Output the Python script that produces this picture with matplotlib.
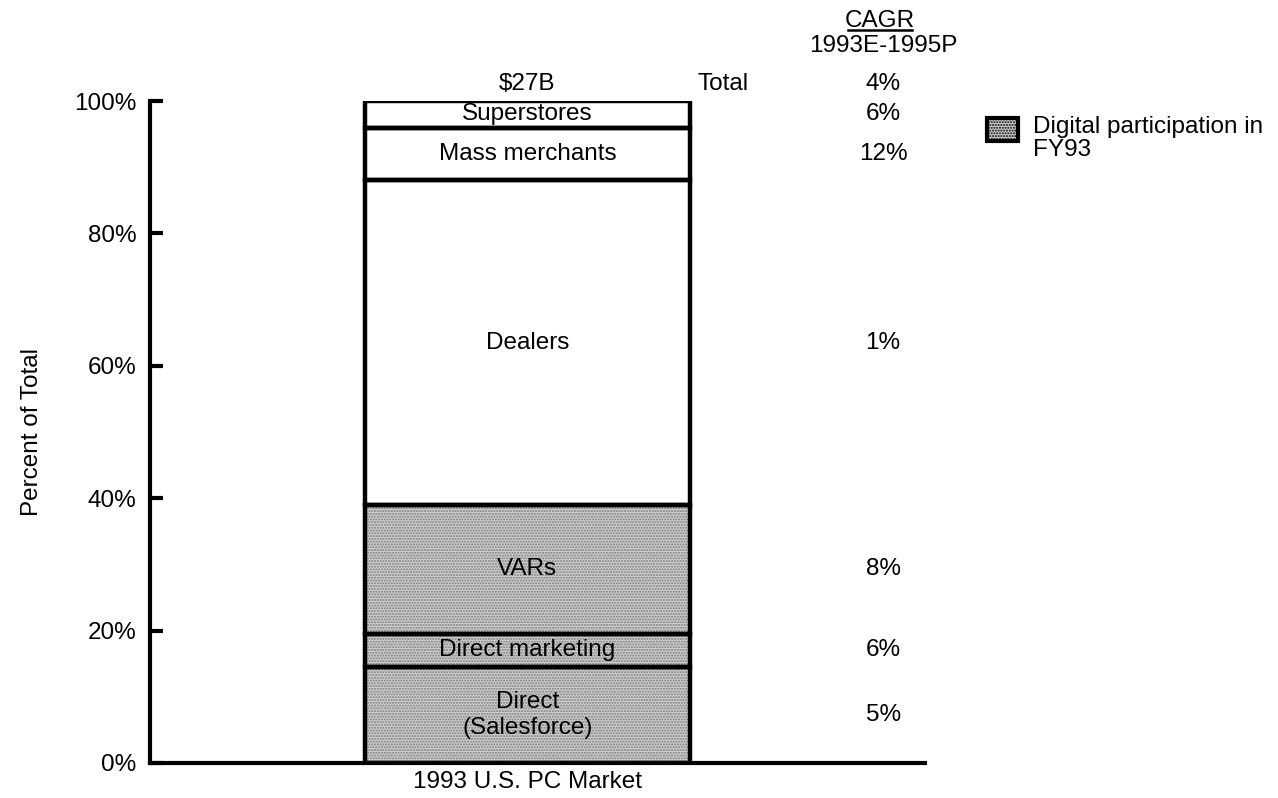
import matplotlib.pyplot as plt
import numpy as np
from matplotlib.patches import Rectangle

plt.rcParams['font.family'] = ['Liberation Sans', 'DejaVu Sans']

channels = ["Direct\n(Salesforce)", "Direct marketing", "VARs", "Dealers",
            "Mass merchants", "Superstores"]
shares = [14.5, 5.0, 19.5, 49.0, 8.0, 4.0]
cagr = ["5%", "6%", "8%", "1%", "12%", "6%"]
digital = [True, True, True, False, False, False]
market_label = "1993 U.S. PC Market"
market_size = "$27B"
total_cagr = "4%"
yticks = [0, 20, 40, 60, 80, 100]

fs = 17.5
stipple = '#cfcfcf'

fig = plt.figure(figsize=(12.78, 7.98), dpi=100)
ax = fig.add_axes([0.1174, 0.0439, 0.6064, 0.8295])

bottoms = np.cumsum([0] + shares[:-1])
bar_x, bar_w = 0.0, 0.42

# shaded fill first, then the heavy outlines on top
for b, h, d in zip(bottoms, shares, digital):
    if d:
        ax.bar(bar_x, h, bottom=b, width=bar_w, color=stipple,
               hatch='......', edgecolor='#7a7a7a', linewidth=0, zorder=1)
ax.bar(bar_x, shares, bottom=bottoms, width=bar_w, facecolor='none',
       edgecolor='black', linewidth=3.2, zorder=2)

for b, h, name in zip(bottoms, shares, channels):
    ax.text(bar_x, b + h / 2, name, ha='center', va='center', fontsize=fs, zorder=3)

# CAGR column
cagr_x = 0.459
for b, h, c in zip(bottoms, shares, cagr):
    ax.text(cagr_x, b + h / 2, c, ha='center', va='center', fontsize=fs,
            clip_on=False)
ax.text(bar_x, 102.6, market_size, ha='center', va='center', fontsize=fs)
ax.text(0.252, 102.6, "Total", ha='center', va='center', fontsize=fs)
ax.text(cagr_x, 102.6, total_cagr, ha='center', va='center', fontsize=fs)
ax.text(cagr_x, 108.3, "1993E-1995P", ha='center', va='center', fontsize=fs)
ax.text(cagr_x - 0.004, 112.1, "CAGR", ha='center', va='center', fontsize=fs)
ax.plot([cagr_x - 0.045, cagr_x + 0.037], [110.7, 110.7], color='black',
        linewidth=1.8, clip_on=False)

ax.set_xlim(-0.487, 0.513)
ax.set_ylim(0, 100)
ax.set_yticks(yticks)
ax.set_yticklabels([f"{t}%" for t in yticks], fontsize=fs)
ax.set_xticks([bar_x])
ax.set_xticklabels([market_label], fontsize=fs)
ax.tick_params(axis='y', direction='in', length=9, width=3, pad=10)
ax.tick_params(axis='x', length=0, pad=6)
ax.set_ylabel("Percent of Total", fontsize=fs, labelpad=22)
for side in ['top', 'right']:
    ax.spines[side].set_visible(False)
for side in ['left', 'bottom']:
    ax.spines[side].set_linewidth(3)

# legend box with the shaded swatch
lx0, ly0 = 987 / 1278, 1 - 141 / 798
sw = Rectangle((lx0, ly0), 31 / 1278, 23 / 798, transform=fig.transFigure,
               facecolor=stipple, hatch='......', edgecolor='black',
               linewidth=3)
fig.patches.append(sw)
fig.text(1033 / 1278, 1 - 116 / 798, "Digital participation in\nFY93",
         fontsize=fs, ha='left', va='top', linespacing=1.05)

fig.savefig('out.png', dpi=100)
